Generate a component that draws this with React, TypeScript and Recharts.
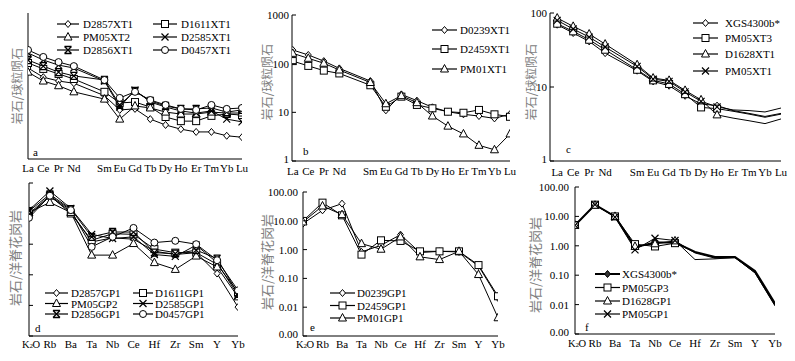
import React from "react";
import { LineChart, Line, XAxis, YAxis } from "recharts";

const SERIF = '"Liberation Serif", "Times New Roman", serif';
const CJK = '"Noto Sans CJK SC", sans-serif';

// REE order (Pm kept as a gap, no data, no label)
const REE = ["La", "Ce", "Pr", "Nd", "", "Sm", "Eu", "Gd", "Tb", "Dy", "Ho", "Er", "Tm", "Yb", "Lu"];
const REE_X = [0, 1, 2, 3, 5, 6, 7, 8, 9, 10, 11, 12, 13, 14];
const SPIDER = ["K2O", "Rb", "Ba", "Ta", "Nb", "Ce", "Hf", "Zr", "Sm", "Y", "Yb"];
const SPIDER_X = [0, 1, 2, 3, 4, 5, 6, 7, 8, 9, 10];

// panel a - chondrite normalised
const aNames = ["D2857XT1", "D1611XT1", "PM05XT2", "D2585XT1", "D2856XT1", "D0457XT1"];
const aShapes = ["diamond", "square", "triangle", "cross", "star", "circle"];
const a_D2857XT1 = [74, 48, 40, 36, 20, 10.2, 10.7, 6.6, 5.0, 4.1, 3.6, 3.6, 3.0, 2.8];
const a_D1611XT1 = [94, 71, 56, 44, 24, 14.2, 14.8, 11.7, 7.3, 6.0, 6.0, 7.7, 8.4, 8.0];
const a_PM05XT2 = [61, 40, 32, 24, 17, 6.6, 12.3, 11.2, 9.2, 8.4, 8.4, 9.2, 8.8, 8.8];
const a_D2585XT1 = [151, 108, 85, 74, 40, 11.7, 26, 14.8, 11.7, 9.7, 8.8, 9.7, 6.6, 5.8];
const a_D2856XT1 = [108, 81, 61, 51, 42, 12.9, 25, 15.6, 12.3, 10.7, 10.7, 11.2, 9.2, 10.2];
const a_D0457XT1 = [174, 125, 98, 81, 42, 18, 24, 16.3, 12.9, 10.7, 10.2, 12.9, 10.7, 11.2];

// panel b
const bNames = ["D0239XT1", "D2459XT1", "PM01XT1"];
const bShapes = ["diamond", "square", "triangle"];
const b_D0239XT1 = [191, 151, 113, 80, 44, 11, 23.4, 17.4, 12.7, 10.3, 9.1, 8.4, 7.5, 9.2];
const b_D2459XT1 = [113, 90, 72, 63, 36, 13, 21, 14.2, 12.1, 10.3, 9.8, 11.2, 9.1, 8.1];
const b_PM01XT1 = [163, 129, 102, 74, 41, 15, 22, 15.8, 8.4, 5.2, 3.6, 2.1, 1.7, 3.6];

// panel c
const cNames = ["XGS4300b*", "PM05XT3", "D1628XT1", "PM05XT1"];
const cShapes = ["diamond", "square", "triangle", "cross"];
const c_XGS4300b = [69.5, 53.6, 41.3, 28.7, 16.6, 11.9, 10.4, 7.6, 5.9, 5.6, 4.8, 4.4, 4.0, 4.4];
const c_PM05XT3 = [71.7, 56.5, 43.5, 31.9, 17.1, 12.3, 11.0, 8.0, 5.3, 5.1, 4.7, 4.3, 3.9, 4.3];
const c_D1628XT1 = [85.5, 66, 52, 38, 20, 13.2, 12.3, 9.0, 6.7, 4.2, 3.8, 3.5, 3.2, 3.7];
const c_PM05XT1 = [79.6, 60.7, 47.3, 34.7, 19, 12.8, 11.9, 8.6, 6.4, 5.4, 4.9, 4.8, 4.6, 5.2];

// panel d - ORG normalised
const dNames = ["D2857GP1", "D1611GP1", "PM05GP2", "D2585GP1", "D2856GP1", "D0457GP1"];
const dShapes = ["diamond", "square", "triangle", "cross", "star", "circle"];
const d_D2857GP1 = [8.9, 36.6, 11.5, 1.19, 1.61, 1.46, 0.59, 0.46, 0.53, 0.11, 0.0088];
const d_D1611GP1 = [10.1, 38.4, 10.1, 1.35, 2.2, 2.1, 0.69, 0.53, 0.53, 0.22, 0.027];
const d_PM05GP2 = [10.9, 23.2, 10.9, 0.44, 0.44, 1.05, 0.25, 0.15, 0.41, 0.18, 0.019];
const d_D2585GP1 = [13.0, 54.7, 14.8, 2.1, 1.53, 1.74, 0.46, 0.4, 0.93, 0.25, 0.021];
const d_D2856GP1 = [12.1, 42.5, 14.1, 1.74, 2.5, 2.5, 0.53, 0.49, 0.64, 0.34, 0.024];
const d_D0457GP1 = [7.3, 38.4, 13.0, 0.82, 1.74, 3.4, 1.13, 1.29, 1.0, 0.3, 0.031];

// panel e
const eNames = ["D0239GP1", "D2459GP1", "PM01GP1"];
const eShapes = ["diamond", "square", "triangle"];
const e_D0239GP1 = [8.0, 23.1, 39.4, 0.83, 1.41, 3.3, 0.79, 0.87, 0.83, 0.27, 0.021];
const e_D2459GP1 = [9.9, 42.7, 15.5, 0.67, 2.1, 2.0, 0.87, 0.87, 0.87, 0.29, 0.024];
const e_PM01GP1 = [9.1, 32.7, 16.4, 1.61, 1.03, 2.75, 0.56, 0.45, 0.87, 0.136, 0.0043];

// panel f
const fNames = ["XGS4300b*", "PM05GP3", "D1628GP1", "PM05GP1"];
const fShapes = ["diamond", "square", "triangle", "cross"];
const f_XGS4300b = [5.0, 25, 10, 0.9, 1.3, 1.3, 0.62, 0.42, 0.42, 0.14, 0.011];
const f_PM05GP3 = [5.1, 25, 10, 1.14, 0.95, 1.23, 0.6, 0.4, 0.4, 0.13, 0.01];
const f_D1628GP1 = [5.0, 24, 10, 0.95, 1.17, 1.47, 0.57, 0.38, 0.39, 0.12, 0.009];
const f_PM05GP1 = [5.0, 25, 9.5, 0.73, 1.81, 1.51, 0.34, 0.36, 0.4, 0.12, 0.0095];

function makeRows(xs: number[], series: number[][]) {
  return xs.map((x, i) => {
    const r: any = { x };
    series.forEach((s, k) => (r["s" + k] = s[i]));
    return r;
  });
}

function Marker({ shape, cx, cy, fill = "#fff" }: any) {
  const s = "#000";
  switch (shape) {
    case "circle":
      return <circle cx={cx} cy={cy} r={3.5} fill={fill} stroke={s} />;
    case "square":
      return <rect x={cx - 3.5} y={cy - 3.5} width={7} height={7} fill={fill} stroke={s} />;
    case "triangle":
      return <polygon points={`${cx},${cy - 4.5} ${cx + 4},${cy + 3} ${cx - 4},${cy + 3}`} fill={fill} stroke={s} />;
    case "diamond":
      return <polygon points={`${cx},${cy - 3.5} ${cx + 3},${cy} ${cx},${cy + 3.5} ${cx - 3},${cy}`} fill={fill} stroke={s} />;
    case "cross":
      return (
        <path d={`M${cx - 3.5},${cy - 3.5}L${cx + 3.5},${cy + 3.5}M${cx - 3.5},${cy + 3.5}L${cx + 3.5},${cy - 3.5}`} stroke={s} strokeWidth={1.2} />
      );
    case "star":
      return (
        <path
          d={`M${cx - 3.5},${cy - 3.5}L${cx + 3.5},${cy + 3.5}M${cx - 3.5},${cy + 3.5}L${cx + 3.5},${cy - 3.5}M${cx - 3.5},${cy - 3.5}H${cx + 3.5}M${cx - 3.5},${cy + 3.5}H${cx + 3.5}`}
          stroke={s}
          strokeWidth={1.3}
        />
      );
    default:
      return null;
  }
}

function YTick(props: any) {
  const { x, y, payload, fmt, gap, inner, lowest } = props;
  const label = fmt ? fmt(payload.value) : "";
  const ax = x + gap;
  // the bottom label sits a touch higher so it clears the first x label
  const dy = payload.value === lowest ? 1.5 : 4;
  return (
    <g>
      {inner && <line x1={ax} x2={ax + 4} y1={y} y2={y} stroke="#000" />}
      {label && (
        <text x={x} y={y} dy={dy} textAnchor="end" fontSize={11} fontFamily={SERIF} fill="#000">
          {label}
        </text>
      )}
    </g>
  );
}

function XTick(props: any) {
  const { x, y, payload, labels } = props;
  const t: string = labels[payload.value] ?? "";
  if (!t) return <g />;
  if (t === "K2O") {
    return (
      <text x={x + 2} y={y} dy={9} textAnchor="middle" fontSize={10.5} fontFamily={SERIF} fill="#000" letterSpacing={-0.3}>
        K<tspan fontSize={7}>2</tspan>O
      </text>
    );
  }
  return (
    <text x={x} y={y} dy={9} textAnchor="middle" fontSize={11} fontFamily={SERIF} fill="#000">
      {t}
    </text>
  );
}

type Cfg = {
  left: number;
  top: number;
  width: number;
  height: number;
  yWidth: number;
  mTop: number;
  mRight: number;
  xHeight: number;
  xGap: number;
  xDomain: [number, number];
  xTicks: number[];
  xLabels: string[];
  yDomain: [number, number];
  yTicks: number[];
  yFmt: ((v: number) => string) | null;
  yGap: number;
  inner: boolean;
  rows: any[];
  shapes: string[];
  markUntil: number;
  box: boolean;
  bold?: number;
};

function Panel({ c }: { c: Cfg }) {
  return (
    <div style={{ position: "absolute", left: c.left, top: c.top }}>
      <LineChart width={c.width} height={c.height} data={c.rows} margin={{ top: c.mTop, right: c.mRight, left: 0, bottom: 0 }}>
        <XAxis
          dataKey="x"
          type="number"
          domain={c.xDomain}
          ticks={c.xTicks}
          interval={0}
          allowDataOverflow
          height={c.xHeight}
          tickLine={false}
          tickSize={0}
          tickMargin={c.xGap}
          axisLine={{ stroke: "#000" }}
          tick={<XTick labels={c.xLabels} />}
        />
        <YAxis
          type="number"
          scale="log"
          domain={c.yDomain}
          ticks={c.yTicks}
          interval={0}
          allowDataOverflow
          width={c.yWidth}
          tickLine={false}
          tickSize={0}
          tickMargin={c.yGap}
          axisLine={{ stroke: "#000" }}
          tick={<YTick fmt={c.yFmt} gap={c.yGap} inner={c.inner} lowest={c.yDomain[0]} />}
        />
        {c.box && (
          <XAxis xAxisId="top" orientation="top" type="number" dataKey="x" domain={c.xDomain} height={0} tick={false} tickLine={false} axisLine={{ stroke: "#000" }} />
        )}
        {c.box && <YAxis yAxisId="right" orientation="right" width={0} tick={false} tickLine={false} axisLine={{ stroke: "#000" }} />}
        {c.shapes.map((sh, k) => (
          <Line
            key={k}
            dataKey={"s" + k}
            type="linear"
            stroke="#000"
            strokeWidth={c.bold === k ? 2 : 1}
            isAnimationActive={false}
            connectNulls
            dot={(p: any) =>
              p.payload.x <= c.markUntil ? (
                <g key={p.index}>
                  <Marker shape={sh} cx={p.cx} cy={p.cy} fill={c.bold === k ? "#333" : "#fff"} />
                </g>
              ) : (
                <g key={p.index} />
              )
            }
            activeDot={false}
          />
        ))}
      </LineChart>
    </div>
  );
}

const fix2 = (v: number) => v.toFixed(2);
const plain = (v: number) => String(v);

const panels: Cfg[] = [
  {
    left: 0, top: 0, width: 265, height: 180, yWidth: 28, mTop: 13, mRight: 23, xHeight: 21, xGap: 4,
    xDomain: [0, 14], xTicks: REE_X, xLabels: REE, yDomain: [1, 1000], yTicks: [1, 10, 100, 1000], yFmt: null, yGap: 3, inner: false,
    rows: makeRows(REE_X, [a_D2857XT1, a_D1611XT1, a_PM05XT2, a_D2585XT1, a_D2856XT1, a_D0457XT1]), shapes: aShapes, markUntil: 14, box: true,
  },
  {
    left: 260, top: 0, width: 265, height: 180, yWidth: 32, mTop: 15, mRight: 15, xHeight: 19, xGap: 5,
    xDomain: [-0.05, 14], xTicks: REE_X, xLabels: REE, yDomain: [1, 1000], yTicks: [1, 10, 100, 1000], yFmt: plain, yGap: 3, inner: true,
    rows: makeRows(REE_X, [b_D0239XT1, b_D2459XT1, b_PM01XT1]), shapes: bShapes, markUntil: 14, box: false,
  },
  {
    left: 525, top: 0, width: 270, height: 180, yWidth: 25, mTop: 13, mRight: 14, xHeight: 19, xGap: 6,
    xDomain: [-0.45, 14], xTicks: REE_X, xLabels: REE, yDomain: [1, 100], yTicks: [1, 10, 100], yFmt: plain, yGap: 3, inner: true,
    rows: makeRows(REE_X, [c_XGS4300b, c_PM05XT3, c_D1628XT1, c_PM05XT1]), shapes: cShapes, markUntil: 10, box: false,
  },
  {
    left: 0, top: 175, width: 260, height: 186, yWidth: 29, mTop: 8, mRight: 22, xHeight: 25, xGap: 3,
    xDomain: [0, 10], xTicks: SPIDER_X, xLabels: SPIDER, yDomain: [0.001, 100], yTicks: [0.001, 0.01, 0.1, 1, 10, 100], yFmt: null, yGap: 3, inner: true,
    rows: makeRows(SPIDER_X, [d_D2857GP1, d_D1611GP1, d_PM05GP2, d_D2585GP1, d_D2856GP1, d_D0457GP1]), shapes: dShapes, markUntil: 10, box: true,
  },
  {
    left: 260, top: 175, width: 265, height: 186, yWidth: 43, mTop: 17, mRight: 27, xHeight: 25, xGap: 3,
    xDomain: [0, 10], xTicks: SPIDER_X, xLabels: SPIDER, yDomain: [0.001, 100], yTicks: [0.001, 0.01, 0.1, 1, 10, 100], yFmt: fix2, yGap: 5, inner: true,
    rows: makeRows(SPIDER_X, [e_D0239GP1, e_D2459GP1, e_PM01GP1]), shapes: eShapes, markUntil: 10, box: false,
  },
  {
    left: 525, top: 175, width: 270, height: 186, yWidth: 50, mTop: 12, mRight: 20, xHeight: 27, xGap: 4,
    xDomain: [0, 10], xTicks: SPIDER_X, xLabels: SPIDER, yDomain: [0.001, 100], yTicks: [0.001, 0.01, 0.1, 1, 10, 100], yFmt: fix2, yGap: 6, inner: true,
    rows: makeRows(SPIDER_X, [f_XGS4300b, f_PM05GP3, f_D1628GP1, f_PM05GP1]), shapes: fShapes, markUntil: 5, box: false, bold: 0,
  },
];

function LegendRow({ x1, x2, tx, y, name, shape, fill, sw }: any) {
  return (
    <g>
      <line x1={x1} x2={x2} y1={y} y2={y} stroke="#000" strokeWidth={sw || 1.2} />
      <Marker shape={shape} cx={(x1 + x2) / 2} cy={y} fill={fill || "#fff"} />
      <text x={tx} y={y} dy={4} fontSize={11} fontFamily={SERIF} fill="#000">
        {name}
      </text>
    </g>
  );
}

function YTitle({ x, y, text, size }: any) {
  return (
    <text transform={`translate(${x},${y}) rotate(-90)`} textAnchor="middle" dominantBaseline="central" fontSize={size} fontFamily={CJK} fill="#808080">
      {text}
    </text>
  );
}

export default function App() {
  const legendCols = (names: string[], shapes: string[], cols: { x1: number; x2: number; tx: number }[], rows: number[], opts: any = {}) =>
    names.map((n, i) => {
      const col = cols[i % cols.length];
      const row = rows[Math.floor(i / cols.length)];
      return (
        <LegendRow key={n + i} {...col} y={row} name={n} shape={shapes[i]} fill={opts.bold === i ? "#333" : "#fff"} sw={opts.bold === i ? 2 : 1.2} />
      );
    });

  return (
    <div style={{ position: "absolute", left: 0, top: 0, width: 795, height: 361, background: "#fff", overflow: "hidden" }}>
      {panels.map((p, i) => (
        <Panel key={i} c={p} />
      ))}
      <svg width={795} height={361} style={{ position: "absolute", left: 0, top: 0, pointerEvents: "none" }}>
        <YTitle x={16} y={86} text="岩石/球粒陨石" size={12} />
        <YTitle x={266} y={82} text="岩石/球粒陨石" size={12} />
        <YTitle x={530} y={82} text="岩石/球粒陨石" size={12} />
        <YTitle x={14} y={258} text="岩石/洋脊花岗岩" size={13} />
        <YTitle x={266} y={262} text="岩石/洋脊花岗岩" size={13} />
        <YTitle x={534} y={265} text="岩石/洋脊花岗岩" size={13} />

        {legendCols(aNames, aShapes, [{ x1: 57, x2: 79, tx: 83 }, { x1: 153, x2: 177, tx: 181 }], [24, 37, 50])}
        {legendCols(bNames, bShapes, [{ x1: 432, x2: 457, tx: 460 }], [30, 49, 69])}
        {legendCols(cNames, cShapes, [{ x1: 693, x2: 718, tx: 725 }], [23, 38, 54, 71])}
        {legendCols(dNames, dShapes, [{ x1: 45, x2: 68, tx: 71 }, { x1: 133, x2: 153, tx: 155 }], [293, 303.5, 314])}
        {legendCols(eNames, eShapes, [{ x1: 330, x2: 355, tx: 357 }], [293, 305.5, 318])}
        {legendCols(fNames, fShapes, [{ x1: 595, x2: 620, tx: 622 }], [274, 287.5, 301, 314], { bold: 0 })}

        {[
          ["a", 33, 156],
          ["b", 303, 155],
          ["c", 566, 153],
          ["d", 35, 332],
          ["e", 310, 331],
          ["f", 585, 331],
        ].map(([t, x, y]) => (
          <text key={t as string} x={x as number} y={y as number} fontSize={11} fontFamily={SERIF} fill="#000">
            {t}
          </text>
        ))}
      </svg>
    </div>
  );
}
